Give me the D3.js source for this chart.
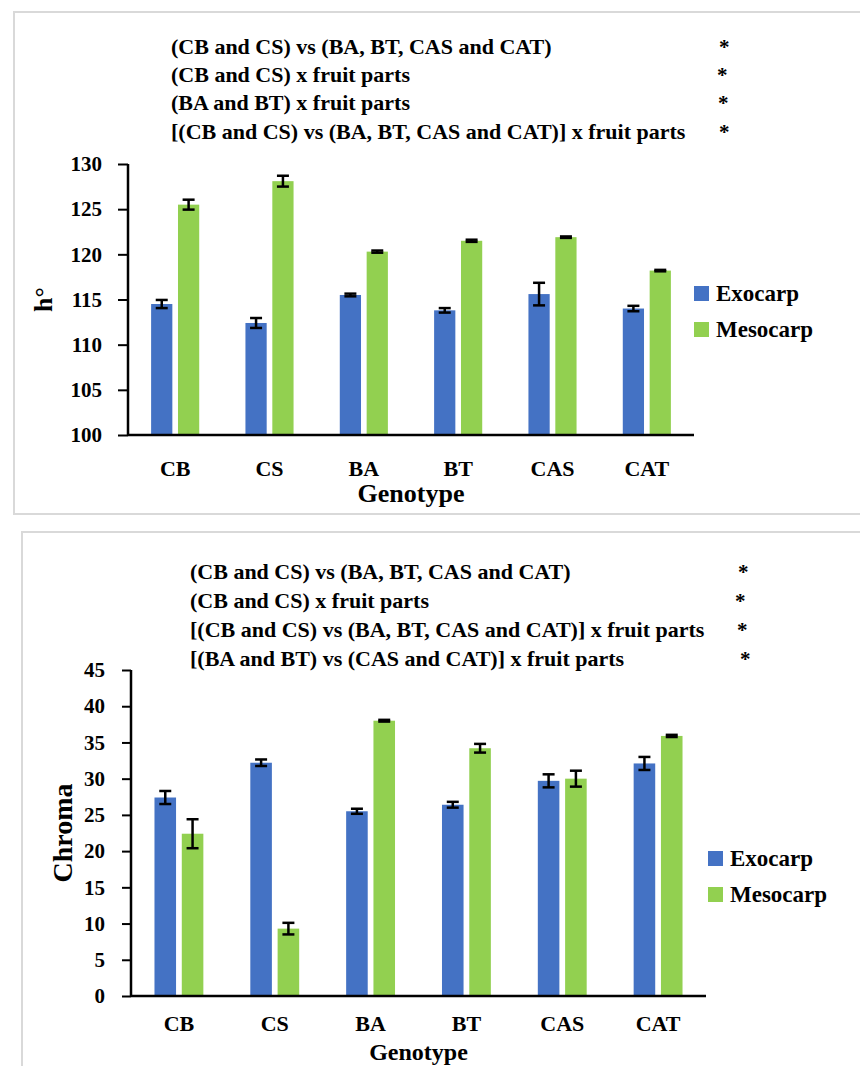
<!DOCTYPE html>
<html>
<head>
<meta charset="utf-8">
<script src="https://cdn.jsdelivr.net/npm/d3@7"></script>
<style>
  body { margin: 0; background: #fff; }
  svg text { font-family: "Liberation Serif", "Times New Roman", serif; font-weight: bold; fill: #000; }
</style>
</head>
<body>
<div id="container"></div>
<script>
// categories and series
const genotypes = ["CB", "CS", "BA", "BT", "CAS", "CAT"];
const parts = ["Exocarp", "Mesocarp"];
const partColors = ["#4472C4", "#92D050"];

// h° values (top panel)
const hueExocarp = [114.5, 112.4, 115.5, 113.8, 115.6, 114.0];
const hueMesocarp = [125.5, 128.1, 120.3, 121.5, 121.9, 118.2];
const hueExocarpErr = [0.45, 0.55, 0.15, 0.25, 1.25, 0.3];
const hueMesocarpErr = [0.55, 0.6, 0.12, 0.12, 0.08, 0.08];
const hueTicks = [100, 105, 110, 115, 120, 125, 130];
const hueNotes = [
  "(CB and CS) vs (BA, BT, CAS and CAT)",
  "(CB and CS) x fruit parts",
  "(BA and BT) x fruit parts",
  "[(CB and CS) vs (BA, BT, CAS and CAT)] x fruit parts"
];

// Chroma values (bottom panel)
const chromaExocarp = [27.4, 32.2, 25.5, 26.4, 29.7, 32.1];
const chromaMesocarp = [22.4, 9.3, 38.0, 34.2, 30.0, 35.9];
const chromaExocarpErr = [0.9, 0.45, 0.35, 0.4, 0.9, 0.9];
const chromaMesocarpErr = [2.0, 0.8, 0.12, 0.6, 1.1, 0.15];
const chromaTicks = [0, 5, 10, 15, 20, 25, 30, 35, 40, 45];
const chromaNotes = [
  "(CB and CS) vs (BA, BT, CAS and CAT)",
  "(CB and CS) x fruit parts",
  "[(CB and CS) vs (BA, BT, CAS and CAT)] x fruit parts",
  "[(BA and BT) vs (CAS and CAT)] x fruit parts"
];

let viz = d3.select("#container")
  .append("svg")
    .attr("width", 860)
    .attr("height", 1066)
;

// panel borders
viz.append("rect")
    .attr("x", 14).attr("y", 12)
    .attr("width", 870).attr("height", 502)
    .attr("fill", "none")
    .attr("stroke", "#d9d9d9")
    .attr("stroke-width", 2)
;
viz.append("rect")
    .attr("x", 22).attr("y", 532)
    .attr("width", 870).attr("height", 560)
    .attr("fill", "none")
    .attr("stroke", "#d9d9d9")
    .attr("stroke-width", 2)
;

function drawPanel(p) {
  let g = viz.append("g");

  let x0 = d3.scaleBand()
      .domain(genotypes)
      .range([p.left, p.right])
      .paddingInner(0)
      .paddingOuter(0)
  ;
  let x1 = d3.scaleBand()
      .domain(parts)
      .range([0, x0.bandwidth()])
      .paddingInner(0.21)
      .paddingOuter(0.86)
  ;
  let y = d3.scaleLinear()
      .domain(p.domain)
      .range([p.bottom, p.top])
  ;

  // annotation lines with significance stars
  p.notes.forEach(function(t, i) {
    g.append("text")
        .text(t)
        .attr("x", p.noteX)
        .attr("y", p.noteY + i * p.noteStep)
        .attr("font-size", 22)
    ;
    g.append("text")
        .text("*")
        .attr("x", p.starX[i])
        .attr("y", p.noteY + i * p.noteStep)
        .attr("font-size", 21)
        .attr("font-weight", "normal")
    ;
  });

  // bars
  let rows = [];
  genotypes.forEach(function(gen, i) {
    rows.push({ gen: gen, part: parts[0], v: p.values[0][i], e: p.errors[0][i], c: partColors[0] });
    rows.push({ gen: gen, part: parts[1], v: p.values[1][i], e: p.errors[1][i], c: partColors[1] });
  });

  g.selectAll("rect.bar")
    .data(rows)
    .join("rect")
      .attr("class", "bar")
      .attr("x", d => x0(d.gen) + x1(d.part))
      .attr("y", d => y(d.v))
      .attr("width", x1.bandwidth())
      .attr("height", d => y(p.domain[0]) - y(d.v))
      .attr("fill", d => d.c)
  ;

  // error bars
  let eb = g.selectAll("g.err")
    .data(rows)
    .join("g")
      .attr("class", "err")
      .attr("transform", d => "translate(" + (x0(d.gen) + x1(d.part) + x1.bandwidth() / 2) + ",0)")
      .attr("stroke", "black")
      .attr("stroke-width", 2.5)
  ;
  eb.append("line")
      .attr("y1", d => y(d.v - d.e)).attr("y2", d => y(d.v + d.e))
  ;
  eb.append("line")
      .attr("x1", -6).attr("x2", 6)
      .attr("y1", d => y(d.v - d.e)).attr("y2", d => y(d.v - d.e))
  ;
  eb.append("line")
      .attr("x1", -6).attr("x2", 6)
      .attr("y1", d => y(d.v + d.e)).attr("y2", d => y(d.v + d.e))
  ;

  // y axis
  let ya = g.append("g")
      .attr("transform", "translate(" + p.left + ",0)")
      .call(d3.axisLeft(y).tickValues(p.ticks).tickSize(p.tickSize).tickPadding(p.tickPad))
      .attr("font-family", null)
      .attr("font-size", null)
  ;
  ya.select(".domain").attr("stroke-width", 2.5).attr("d", "M0," + p.top + "V" + p.bottom);
  ya.selectAll(".tick line").attr("stroke-width", 2);
  ya.selectAll(".tick text").attr("font-size", 21);

  // x axis
  let xa = g.append("g")
      .attr("transform", "translate(0," + p.bottom + ")")
      .call(d3.axisBottom(x0).tickSize(0).tickPadding(p.catPad))
      .attr("font-family", null)
      .attr("font-size", null)
  ;
  xa.select(".domain").attr("stroke-width", 2.5).attr("d", "M" + p.left + ",0H" + p.right);
  xa.selectAll(".tick text")
      .attr("font-size", 22)
      .attr("dy", "0.71em")
  ;

  // axis titles
  g.append("text")
      .text("Genotype")
      .attr("x", (p.left + p.right) / 2)
      .attr("y", p.genY)
      .attr("text-anchor", "middle")
      .attr("font-size", p.genSize)
  ;
  g.append("text")
      .text(p.yTitle)
      .attr("transform", "translate(" + p.yTitleX + "," + ((p.top + p.bottom) / 2) + ") rotate(-90)")
      .attr("text-anchor", "middle")
      .attr("font-size", p.yTitleSize)
  ;

  // legend
  parts.forEach(function(name, i) {
    g.append("rect")
        .attr("x", p.legX)
        .attr("y", p.legY + i * 36)
        .attr("width", 15)
        .attr("height", 15)
        .attr("fill", partColors[i])
    ;
    g.append("text")
        .text(name)
        .attr("x", p.legX + 22)
        .attr("y", p.legY + i * 36 + 15)
        .attr("font-size", 23)
    ;
  });
}

// top panel: h°
drawPanel({
  left: 128, right: 694, top: 164, bottom: 435,
  domain: [100, 130], ticks: hueTicks,
  values: [hueExocarp, hueMesocarp], errors: [hueExocarpErr, hueMesocarpErr],
  tickSize: 10, tickPad: 16, catPad: 25,
  notes: hueNotes, noteX: 171, noteY: 54, noteStep: 28.2,
  starX: [719, 717, 718, 719],
  genY: 502, genSize: 26, yTitle: "h°", yTitleX: 52, yTitleSize: 26,
  legX: 694, legY: 286
});

// bottom panel: Chroma
drawPanel({
  left: 131, right: 706, top: 670, bottom: 996,
  domain: [0, 45], ticks: chromaTicks,
  values: [chromaExocarp, chromaMesocarp], errors: [chromaExocarpErr, chromaMesocarpErr],
  tickSize: 9, tickPad: 17, catPad: 19,
  notes: chromaNotes, noteX: 190, noteY: 579, noteStep: 29,
  starX: [738, 735, 737, 740],
  genY: 1060, genSize: 24, yTitle: "Chroma", yTitleX: 72, yTitleSize: 28,
  legX: 708, legY: 851
});
</script>
</body>
</html>
